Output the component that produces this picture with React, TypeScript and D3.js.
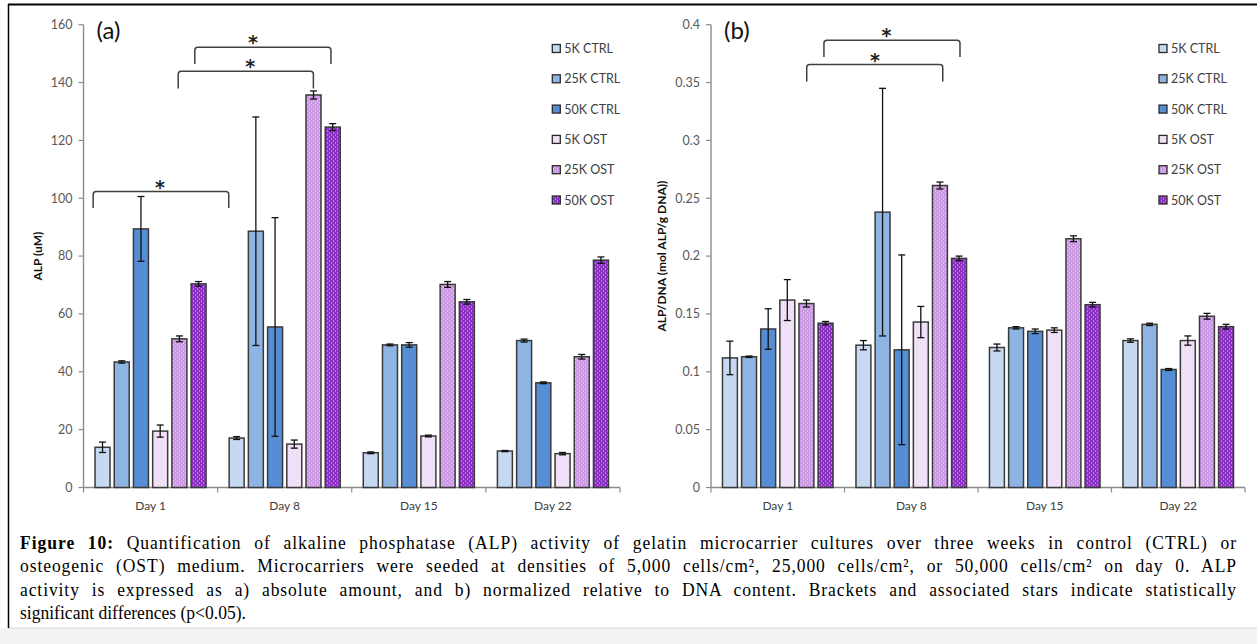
import React, { useLayoutEffect, useRef } from 'react';
import * as d3 from 'd3';

const days = ['Day 1', 'Day 8', 'Day 15', 'Day 22'];
const seriesNames = ['5K CTRL', '25K CTRL', '50K CTRL', '5K OST', '25K OST', '50K OST'];
const seriesColors = ['#C6D9F1', '#8DB4E2', '#558ED5', '#EEDEF5', '#CB98E2', '#8A31C2'];
const seriesDotted = [false, false, false, true, true, true];

// Panel (a): ALP (uM), one array per series over days
const alp5kCtrl = [13.9, 17.1, 12.0, 12.6];
const alp25kCtrl = [43.4, 88.6, 49.3, 50.8];
const alp50kCtrl = [89.4, 55.5, 49.3, 36.2];
const alp5kOst = [19.5, 15.0, 17.8, 11.7];
const alp25kOst = [51.4, 135.7, 70.2, 45.2];
const alp50kOst = [70.4, 124.6, 64.2, 78.6];
const alpErr5kCtrl = [1.8, 0.5, 0.3, 0.2];
const alpErr25kCtrl = [0.4, 39.5, 0.3, 0.5];
const alpErr50kCtrl = [11.2, 37.8, 0.8, 0.3];
const alpErr5kOst = [2.1, 1.4, 0.3, 0.4];
const alpErr25kOst = [1.0, 1.4, 1.0, 0.8];
const alpErr50kOst = [0.8, 1.2, 0.8, 1.1];

// Panel (b): ALP/DNA
const dna5kCtrl = [0.112, 0.123, 0.121, 0.127];
const dna25kCtrl = [0.113, 0.238, 0.138, 0.141];
const dna50kCtrl = [0.137, 0.119, 0.135, 0.102];
const dna5kOst = [0.162, 0.143, 0.136, 0.127];
const dna25kOst = [0.159, 0.261, 0.215, 0.148];
const dna50kOst = [0.142, 0.198, 0.158, 0.139];
const dnaErr5kCtrl = [0.0145, 0.004, 0.003, 0.0015];
const dnaErr25kCtrl = [0.0006, 0.107, 0.001, 0.001];
const dnaErr50kCtrl = [0.0175, 0.082, 0.002, 0.0008];
const dnaErr5kOst = [0.0177, 0.0135, 0.002, 0.004];
const dnaErr25kOst = [0.003, 0.003, 0.0025, 0.0025];
const dnaErr50kOst = [0.0015, 0.002, 0.002, 0.002];

const alpTicks = [0, 20, 40, 60, 80, 100, 120, 140, 160];
const dnaTicks = [0, 0.05, 0.1, 0.15, 0.2, 0.25, 0.3, 0.35, 0.4];

// significance brackets: x in category units (0..4), y in data units
const alpBrackets = [
  { x1: 0.072, x2: 1.083, top: 102.3, leg: 96.6, star: 0.57 },
  { x1: 0.706, x2: 1.714, top: 143.9, leg: 137.9, star: 1.243 },
  { x1: 0.83, x2: 1.845, top: 152.2, leg: 146.4, star: 1.263 },
];
const dnaBrackets = [
  { x1: 0.717, x2: 1.736, top: 0.3655, leg: 0.351, star: 1.228 },
  { x1: 0.846, x2: 1.865, top: 0.3865, leg: 0.372, star: 1.314 },
];

const captionLines = [
  'Quantification of alkaline phosphatase (ALP) activity of gelatin microcarrier cultures over three weeks in control (CTRL) or',
  'osteogenic (OST) medium. Microcarriers were seeded at densities of 5,000 cells/cm², 25,000 cells/cm², or 50,000 cells/cm² on day 0. ALP',
  'activity is expressed as a) absolute amount, and b) normalized relative to DNA content. Brackets and associated stars indicate statistically',
  'significant differences (p<0.05).',
];

const FONT = 'Lato, "Open Sans", sans-serif';
const CAP_SQUEEZE = 0.9;

type PanelProps = {
  x0: number;
  x1: number;
  yTop: number;
  yBottom: number;
  domainMax: number;
  ticks: number[];
  values: number[][];
  errors: number[][];
  brackets: { x1: number; x2: number; top: number; leg: number; star: number }[];
  yLabel: string;
  panelLabel: string;
  legendX: number;
  yLabelX: number;
};

function Panel(p: PanelProps) {
  const y = d3.scaleLinear().domain([0, p.domainMax]).range([p.yBottom, p.yTop]);
  const xDay = d3.scaleBand<string>().domain(days).range([p.x0, p.x1]).padding(0);
  const xCat = d3.scaleLinear().domain([0, 4]).range([p.x0, p.x1]);
  const xSer = d3
    .scaleBand<string>()
    .domain(seriesNames)
    .range([0, xDay.bandwidth()])
    .paddingInner(0.22)
    .paddingOuter(0.6);
  const bw = xSer.bandwidth();
  const fmt = (d: number) => String(+d.toFixed(2));
  const axisColor = '#8c8c8c';

  return (
    <g>
      {/* y axis */}
      <line x1={p.x0} x2={p.x0} y1={y(0)} y2={y(p.domainMax)} stroke={axisColor} strokeWidth={1.4} />
      {p.ticks.map((t) => (
        <g key={t}>
          <line x1={p.x0 - 5} x2={p.x0} y1={y(t)} y2={y(t)} stroke={axisColor} strokeWidth={1.2} />
          <text
            x={p.x0 - 11}
            y={y(t)}
            dy="0.35em"
            textAnchor="end"
            fontFamily={FONT}
            fontSize={12.5}
            fill="#595959"
          >
            {fmt(t)}
          </text>
        </g>
      ))}
      {/* x axis */}
      <line x1={p.x0} x2={p.x1} y1={y(0)} y2={y(0)} stroke={axisColor} strokeWidth={1.4} />
      {d3.range(days.length + 1).map((i) => (
        <line key={i} x1={xCat(i)} x2={xCat(i)} y1={y(0)} y2={y(0) + 5} stroke={axisColor} strokeWidth={1.2} />
      ))}
      {days.map((d) => (
        <text
          key={d}
          x={(xDay(d) as number) + xDay.bandwidth() / 2}
          y={y(0) + 22}
          textAnchor="middle"
          fontFamily={FONT}
          fontSize={12}
          fill="#404040"
        >
          {d}
        </text>
      ))}
      {/* bars */}
      {seriesNames.map((s, si) =>
        days.map((d, di) => {
          const v = p.values[si][di];
          const e = p.errors[si][di];
          const bx = (xDay(d) as number) + (xSer(s) as number);
          const cx = bx + bw / 2;
          return (
            <g key={s + d}>
              <rect
                x={bx}
                y={y(v)}
                width={bw}
                height={y(0) - y(v)}
                fill={seriesDotted[si] ? `url(#dots${si})` : seriesColors[si]}
                stroke="#3a3a3a"
                strokeWidth={1.5}
              />
              <line x1={cx} x2={cx} y1={y(v + e)} y2={y(Math.max(0, v - e))} stroke="#111" strokeWidth={1.3} />
              <line x1={cx - 3.5} x2={cx + 3.5} y1={y(v + e)} y2={y(v + e)} stroke="#111" strokeWidth={1.3} />
              <line
                x1={cx - 3.5}
                x2={cx + 3.5}
                y1={y(Math.max(0, v - e))}
                y2={y(Math.max(0, v - e))}
                stroke="#111"
                strokeWidth={1.3}
              />
            </g>
          );
        })
      )}
      {/* brackets */}
      {p.brackets.map((b, i) => {
        const xa = xCat(b.x1);
        const xb = xCat(b.x2);
        const yt = y(b.top);
        const yl = y(b.leg);
        const r = 3;
        const path = `M${xa},${yl} L${xa},${yt + r} Q${xa},${yt} ${xa + r},${yt} L${xb - r},${yt} Q${xb},${yt} ${xb},${yt + r} L${xb},${yl}`;
        return (
          <g key={i}>
            <path d={path} fill="none" stroke="#404040" strokeWidth={1.5} />
            <text
              x={xCat(b.star)}
              y={yt + 2}
              textAnchor="middle"
              fontFamily='"DejaVu Sans", sans-serif'
              fontWeight="bold"
              fontSize={19}
              fill="#222"
            >
              *
            </text>
          </g>
        );
      })}
      {/* panel label */}
      <text x={p.x0 + 13} y={p.yTop + 14} fontFamily={FONT} fontSize={24} fill="#111">
        {p.panelLabel}
      </text>
      {/* y label */}
      <text
        transform={`translate(${p.yLabelX},${(p.yTop + p.yBottom) / 2}) rotate(-90)`}
        textAnchor="middle"
        dy="0.35em"
        fontFamily={FONT}
        fontWeight="bold"
        fontSize={12}
        fill="#111"
      >
        {p.yLabel}
      </text>
      {/* legend */}
      {seriesNames.map((s, si) => {
        const cy = 48.5 + si * 30.3;
        return (
          <g key={s}>
            <rect
              x={p.legendX}
              y={cy - 4}
              width={8}
              height={8}
              fill={seriesDotted[si] ? `url(#dots${si})` : seriesColors[si]}
              stroke="#2a2a2a"
              strokeWidth={1.3}
            />
            <text x={p.legendX + 12} y={cy} dy="0.36em" fontFamily={FONT} fontSize={12.5} fill="#404040">
              {s}
            </text>
          </g>
        );
      })}
    </g>
  );
}

export default function App() {
  const lineRefs = useRef<(SVGTextElement | null)[]>([]);
  const capX = 20;
  const capRight = 1237;

  useLayoutEffect(() => {
    const target = (capRight - capX) / CAP_SQUEEZE;
    lineRefs.current.forEach((el, i) => {
      if (!el || i === captionLines.length - 1) return;
      el.setAttribute('word-spacing', '0');
      el.setAttribute('letter-spacing', '0');
      const w = el.getComputedTextLength();
      const txt = el.textContent || '';
      const spaces = (txt.match(/ /g) || []).length;
      const chars = txt.length;
      const extra = target - w;
      const ls = (extra * 0.5) / Math.max(1, chars);
      const ws = (extra * 0.5) / Math.max(1, spaces);
      el.setAttribute('letter-spacing', String(ls));
      el.setAttribute('word-spacing', String(ws));
    });
  }, []);

  const alpValues = [alp5kCtrl, alp25kCtrl, alp50kCtrl, alp5kOst, alp25kOst, alp50kOst];
  const alpErrors = [alpErr5kCtrl, alpErr25kCtrl, alpErr50kCtrl, alpErr5kOst, alpErr25kOst, alpErr50kOst];
  const dnaValues = [dna5kCtrl, dna25kCtrl, dna50kCtrl, dna5kOst, dna25kOst, dna50kOst];
  const dnaErrors = [dnaErr5kCtrl, dnaErr25kCtrl, dnaErr50kCtrl, dnaErr5kOst, dnaErr25kOst, dnaErr50kOst];

  return (
    <svg
      width={1257}
      height={644}
      style={{ position: 'absolute', left: 0, top: 0, background: '#fff' }}
    >
      <defs>
        {seriesColors.map((c, i) => (
          <pattern key={i} id={`dots${i}`} width={4} height={4} patternUnits="userSpaceOnUse">
            <rect width={4} height={4} fill={c} />
            <rect x={1} y={0.5} width={1} height={1} fill="#fff" opacity={0.7} />
            <rect x={3} y={2.5} width={1} height={1} fill="#fff" opacity={0.7} />
          </pattern>
        ))}
      </defs>
      <rect x={0} y={0} width={1257} height={644} fill="#fff" />
      <rect x={0} y={628} width={1257} height={16} fill="#f3f3f3" />
      <line x1={8} x2={1257} y1={628} y2={628} stroke="#d4d4d4" strokeWidth={1} />
      {/* frame */}
      <line x1={8} x2={1257} y1={4.5} y2={4.5} stroke="#000" strokeWidth={2.2} />
      <line x1={8.5} x2={8.5} y1={4} y2={628} stroke="#000" strokeWidth={1.5} />

      <Panel
        x0={83.5}
        x1={620}
        yTop={24.7}
        yBottom={487.5}
        domainMax={160}
        ticks={alpTicks}
        values={alpValues}
        errors={alpErrors}
        brackets={alpBrackets}
        yLabel="ALP (uM)"
        panelLabel="(a)"
        legendX={552.3}
        yLabelX={38}
      />
      <Panel
        x0={711}
        x1={1245}
        yTop={24.7}
        yBottom={487.5}
        domainMax={0.4}
        ticks={dnaTicks}
        values={dnaValues}
        errors={dnaErrors}
        brackets={dnaBrackets}
        yLabel="ALP/DNA (mol ALP/g DNA))"
        panelLabel="(b)"
        legendX={1159}
        yLabelX={662}
      />

      {captionLines.map((line, i) => (
        <text
          key={i}
          ref={(el) => {
            lineRefs.current[i] = el;
          }}
          transform={`translate(${capX},${549 + i * 23.4}) scale(${CAP_SQUEEZE},1)`}
          x={0}
          y={0}
          fontFamily='"Liberation Serif", "Times New Roman", serif'
          fontSize={19.5}
          fill="#000"
          style={{ whiteSpace: 'pre' }}
        >
          {i === 0 ? (
            <>
              <tspan fontWeight="bold">Figure 10:</tspan>
              {' ' + line}
            </>
          ) : (
            line
          )}
        </text>
      ))}
    </svg>
  );
}
